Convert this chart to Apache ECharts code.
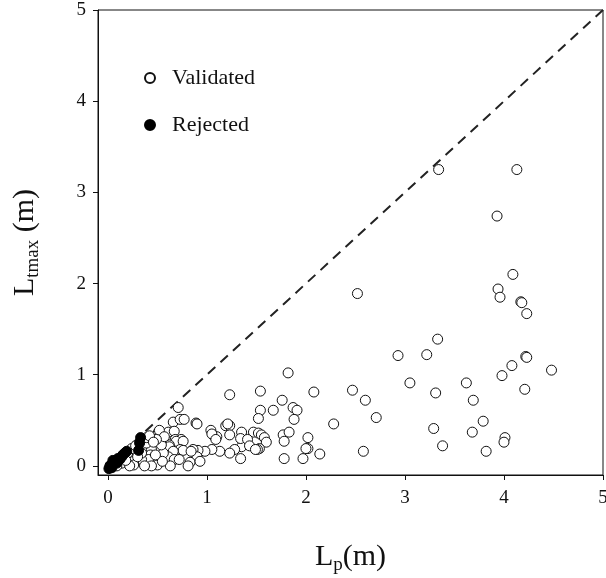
<!DOCTYPE html>
<html>
<head>
<meta charset="utf-8">
<script src="https://cdn.jsdelivr.net/npm/echarts@6/dist/echarts.min.js"></script>
<style>
  html, body { margin: 0; padding: 0; background: #fff; }
  #chart { width: 606px; height: 578px; }
</style>
</head>
<body>
<div id="chart"></div>
<script>
// Tick positions on both axes
const ticks = [0, 1, 2, 3, 4, 5];

// Validated measurements: [Lp (m), Ltmax (m)]
const validated = [
  [3.34,3.25],[4.13,3.25],[3.93,2.74],[4.09,2.10],[3.94,1.94],[3.96,1.85],[4.17,1.80],[4.18,1.79],
  [4.23,1.67],[2.52,1.89],[3.33,1.39],[2.93,1.21],[3.22,1.22],[4.22,1.20],[4.23,1.19],[4.08,1.10],
  [4.48,1.05],[3.98,0.99],[3.05,0.91],[3.62,0.91],[3.31,0.80],[4.21,0.84],[2.47,0.83],[2.60,0.72],
  [3.69,0.72],[2.71,0.53],[3.79,0.49],[2.28,0.46],[3.29,0.41],[3.68,0.37],[4.01,0.31],[4.00,0.26],
  [3.38,0.22],[2.58,0.16],[3.82,0.16],
  [1.82,1.02],[1.23,0.78],[1.54,0.82],[2.08,0.81],[1.76,0.72],[1.87,0.64],[1.91,0.61],[1.67,0.61],
  [1.54,0.61],[1.52,0.52],[1.88,0.51],[1.19,0.44],[1.23,0.44],[1.21,0.46],[1.04,0.39],[1.07,0.33],
  [1.10,0.32],[1.23,0.34],[1.35,0.37],[1.47,0.37],[1.52,0.36],[1.55,0.34],[1.58,0.31],[1.60,0.26],
  [1.77,0.34],[1.83,0.37],[1.78,0.27],[2.02,0.31],[2.02,0.19],[2.00,0.19],[2.14,0.13],[1.78,0.08],
  [1.97,0.08],[1.34,0.08],[1.35,0.21],[1.34,0.30],[1.41,0.29],[1.43,0.22],[1.53,0.19],[1.51,0.18],
  [1.49,0.18],[1.28,0.18],[1.23,0.14],[1.13,0.16],[1.05,0.18],[0.98,0.16],[0.91,0.17],[0.86,0.18],
  [0.71,0.64],[0.66,0.48],[0.73,0.51],[0.77,0.51],[0.89,0.47],[0.90,0.46],[0.51,0.37],[0.61,0.37],
  [0.67,0.38],[0.52,0.39],[0.68,0.29],[0.74,0.29],[0.69,0.27],[0.76,0.27],[0.62,0.23],[0.62,0.21],
  [0.73,0.18],[0.76,0.17],[0.66,0.16],[0.61,0.10],[0.67,0.07],[0.72,0.07],[0.63,0.00],[0.56,0.14],
  [0.54,0.23],[0.57,0.32],[0.49,0.29],[0.44,0.18],[0.43,0.12],[0.41,0.07],[0.50,0.01],[0.44,0.00],
  [0.34,0.07],[0.34,0.14],[0.39,0.25],[0.39,0.31],[0.26,0.05],[0.26,0.01],[0.20,0.14],[0.24,0.19],
  [0.14,0.03],[0.09,0.00],[0.05,0.03],[0.37,0.00],[0.22,0.00],[0.90,0.10],[0.83,0.04],[0.81,0.00],
  [0.93,0.05],[0.84,0.16],[0.42,0.33],[0.28,0.22],[0.46,0.26],[0.30,0.10],[0.18,0.06],[0.12,0.08],
  [0.55,0.05],[0.48,0.12],[1.05,0.35],[1.09,0.29]
];

// Rejected measurements: [Lp (m), Ltmax (m)]
const rejected = [
  [0.33,0.31],[0.32,0.25],[0.31,0.17],[0.17,0.14],[0.19,0.16],[0.15,0.12],[0.12,0.07],[0.05,0.06],
  [0.03,0.01],[0.01,-0.03],[0.09,0.03],[0.07,0.05],[0.02,0.00],[0.04,-0.02],[0.14,0.10],[0.10,0.08]
];

// 1:1 reference line
const identityLine = [[0, 0], [5, 5]];

const serif = 'Liberation Serif, Times New Roman, serif';
const ink = '#111';

const chart = echarts.init(document.getElementById('chart'));

// Axis titles: large letter, lowered subscript, unit in parentheses
const titleRich = {
  a: { fontFamily: serif, fontSize: 30, fontWeight: 'normal', color: ink,
       verticalAlign: 'bottom', lineHeight: 34, padding: [0, 0, 3, 0] },
  b: { fontFamily: serif, fontSize: 19, fontWeight: 'normal', color: ink,
       verticalAlign: 'bottom', lineHeight: 20 }
};

const axisCommon = {
  min: -0.1,
  max: 5,
  splitLine: { show: false },
  axisLine: { show: true, onZero: false, lineStyle: { color: ink, width: 1 } },
  axisTick: { show: true, inside: false, length: 5, customValues: ticks, lineStyle: { color: ink } },
  axisLabel: { customValues: ticks, fontFamily: serif, fontSize: 19, color: ink },
  nameLocation: 'middle',
  nameTextStyle: { fontWeight: 'normal', rich: titleRich }
};

chart.setOption({
  animation: false,
  backgroundColor: '#fff',
  grid: {
    left: 98, right: 3, top: 10, bottom: 103,
    containLabel: false,
    outerBoundsMode: 'none',
    show: true, borderColor: ink, borderWidth: 1
  },
  legend: {
    orient: 'vertical',
    left: 139,
    top: 62,
    itemWidth: 34,
    itemHeight: 10,
    itemGap: 25,
    textStyle: { fontFamily: serif, fontSize: 22, color: ink },
    data: ['Validated', 'Rejected']
  },
  xAxis: Object.assign({}, axisCommon, {
    type: 'value',
    axisLabel: Object.assign({}, axisCommon.axisLabel, { margin: 14 }),
    name: '{a|L}{b|p}{a|(m)}',
    nameGap: 66
  }),
  yAxis: Object.assign({}, axisCommon, {
    type: 'value',
    axisLabel: Object.assign({}, axisCommon.axisLabel, { margin: 12 }),
    name: '{a|L}{b|tmax}{a| (m)}',
    nameRotate: 90,
    nameGap: 55
  }),
  series: [
    {
      name: '1:1',
      type: 'line',
      data: identityLine,
      showSymbol: false,
      symbol: 'none',
      z: 1,
      silent: true,
      lineStyle: { color: '#222', width: 2, type: [10, 7] }
    },
    {
      name: 'Validated',
      type: 'scatter',
      data: validated,
      symbol: 'circle',
      symbolSize: 10,
      z: 3,
      itemStyle: { color: '#fff', borderColor: ink, borderWidth: 1, opacity: 1 }
    },
    {
      name: 'Rejected',
      type: 'scatter',
      data: rejected,
      symbol: 'circle',
      symbolSize: 10,
      z: 4,
      itemStyle: { color: '#000', borderColor: '#000', borderWidth: 1, opacity: 1 }
    }
  ]
});
</script>
</body>
</html>
